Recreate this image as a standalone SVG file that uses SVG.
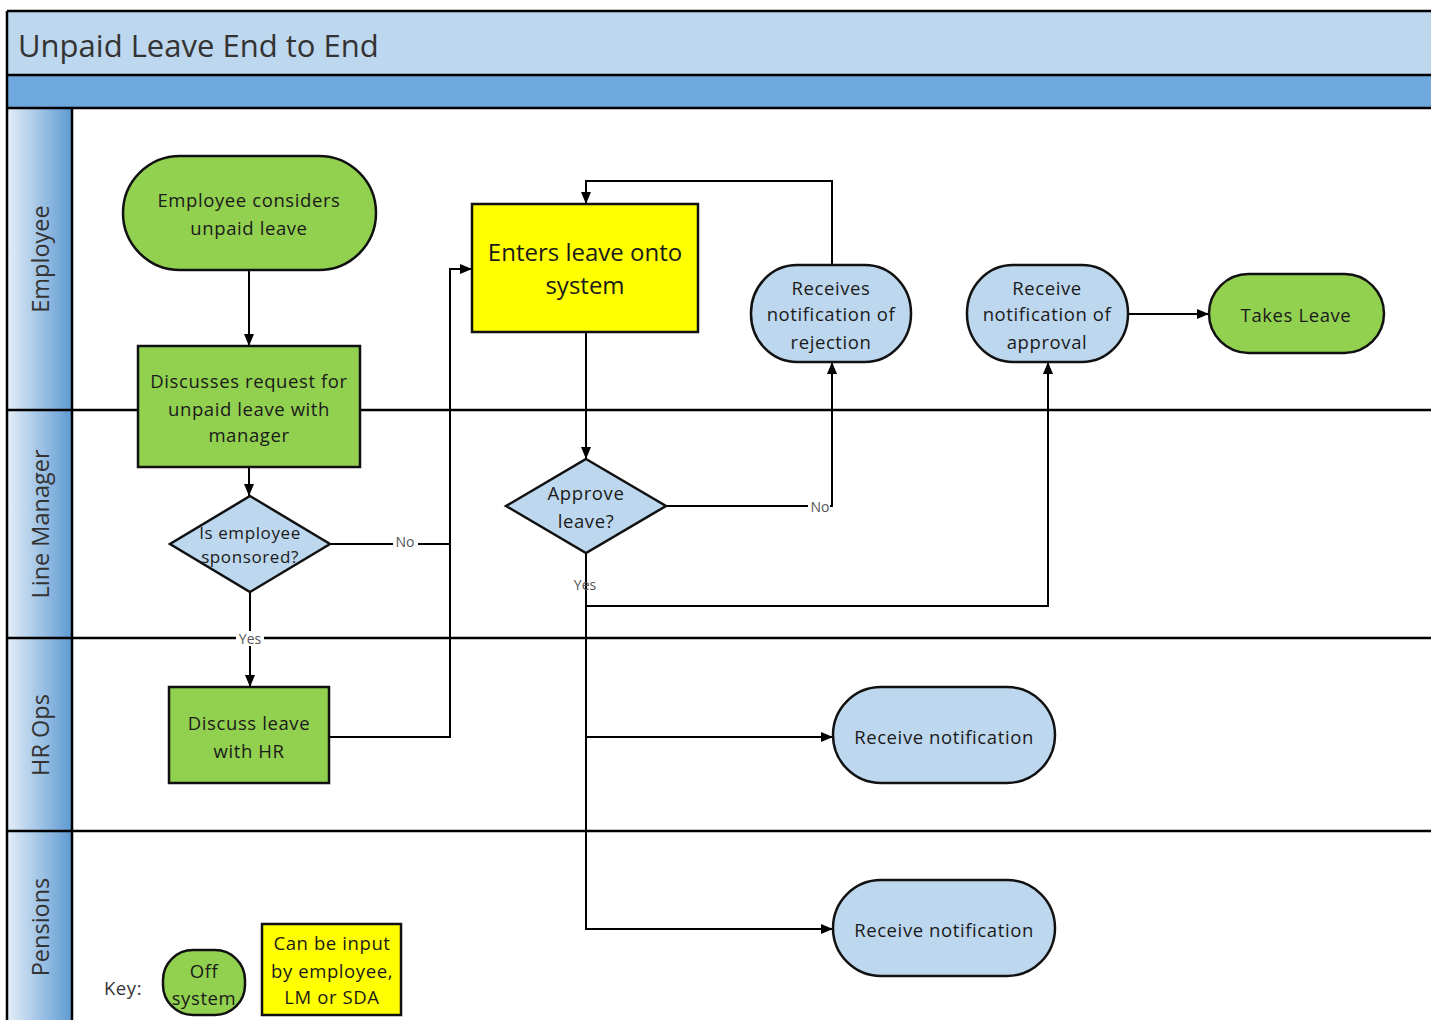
<svg xmlns="http://www.w3.org/2000/svg" width="1431" height="1020" viewBox="0 0 1431 1020">
<defs>
<linearGradient id="hdr" x1="0" y1="0" x2="1" y2="0">
<stop offset="0" stop-color="#E4EEF8"/>
<stop offset="1" stop-color="#5E9AD3"/>
</linearGradient>
<marker id="arr" viewBox="0 0 12 10" refX="12" refY="5" markerWidth="12" markerHeight="10" markerUnits="userSpaceOnUse" orient="auto">
<path d="M0,0 L12,5 L0,10 Z" fill="#000"/>
</marker>
<style>
text{font-family:"Open Sans","Liberation Sans",sans-serif;fill:#1a1a1a;}
.t{font-size:18.5px;letter-spacing:0.6px;text-anchor:middle;dominant-baseline:central;}
.d{font-size:17px;}
.big{font-size:24px;text-anchor:middle;dominant-baseline:central;}
.lane{font-size:23.5px;fill:#333;text-anchor:middle;dominant-baseline:central;}
.lbl{font-size:14px;fill:#555;text-anchor:middle;dominant-baseline:central;}
.green{fill:#92D050;stroke:#111;stroke-width:2.5;}
.blue{fill:#BDD7EE;stroke:#111;stroke-width:2.5;}
.yellow{fill:#FFFF00;stroke:#111;stroke-width:2.5;}
.c{fill:none;stroke:#000;stroke-width:2;}
.ln{stroke:#000;stroke-width:2.5;}
</style>
</defs>
<rect x="0" y="0" width="1431" height="1020" fill="#fff"/>
<g id="frame">
<rect x="7" y="11" width="1430" height="64" fill="#BDD7EE"/>
<rect x="7" y="75" width="1430" height="33" fill="#6FA8DC"/>
<rect x="7" y="108" width="65" height="912" fill="url(#hdr)"/>
<line class="ln" x1="7" y1="11" x2="1431" y2="11"/>
<line class="ln" x1="7" y1="75" x2="1431" y2="75"/>
<line class="ln" x1="7" y1="108" x2="1431" y2="108"/>
<line class="ln" x1="7" y1="11" x2="7" y2="1020"/>
<line class="ln" x1="72" y1="108" x2="72" y2="1020"/>
<line class="ln" x1="7" y1="410" x2="1431" y2="410"/>
<line class="ln" x1="7" y1="638" x2="1431" y2="638"/>
<line class="ln" x1="7" y1="831" x2="1431" y2="831"/>
<text x="18" y="45" font-size="31" dominant-baseline="central" style="fill:#333">Unpaid Leave End to End</text>
<text class="lane" transform="translate(40,259) rotate(-90)">Employee</text>
<text class="lane" transform="translate(40,524) rotate(-90)">Line Manager</text>
<text class="lane" transform="translate(40,735) rotate(-90)">HR Ops</text>
<text class="lane" transform="translate(40,927) rotate(-90)">Pensions</text>
</g>
<g id="connectors">
<line class="c" x1="249" y1="270" x2="249" y2="346" marker-end="url(#arr)"/>
<line class="c" x1="249" y1="467" x2="249" y2="496" marker-end="url(#arr)"/>
<polyline class="c" points="330,544 450,544 450,269 472,269" marker-end="url(#arr)"/>
<line class="c" x1="250" y1="592" x2="250" y2="687" marker-end="url(#arr)"/>
<polyline class="c" points="329,737 450,737 450,544"/>
<line class="c" x1="586" y1="332" x2="586" y2="459" marker-end="url(#arr)"/>
<polyline class="c" points="666,506 832,506 832,362" marker-end="url(#arr)"/>
<polyline class="c" points="832,265 832,181 586,181 586,204" marker-end="url(#arr)"/>
<polyline class="c" points="586,553 586,606 1048,606 1048,362" marker-end="url(#arr)"/>
<polyline class="c" points="586,606 586,737 833,737" marker-end="url(#arr)"/>
<polyline class="c" points="586,737 586,929 833,929" marker-end="url(#arr)"/>
<line class="c" x1="1128" y1="314" x2="1209" y2="314" marker-end="url(#arr)"/>
<rect x="393" y="534" width="25" height="15" fill="#fff"/>
<text class="lbl" x="405" y="541">No</text>
<rect x="808" y="499" width="22" height="15" fill="#fff"/>
<text class="lbl" x="820" y="506">No</text>
<rect x="236" y="631" width="28" height="15" fill="#fff"/>
<text class="lbl" x="250" y="638">Yes</text>
<text class="lbl" x="585" y="584">Yes</text>
</g>
<g id="n1">
<rect class="green" x="123" y="156" width="253" height="114" rx="57" ry="57"/>
<text class="t" x="249" y="199">Employee considers</text>
<text class="t" x="249" y="227">unpaid leave</text>
</g>
<g id="n2">
<rect class="green" x="138" y="346" width="222" height="121"/>
<text class="t" x="249" y="380">Discusses request for</text>
<text class="t" x="249" y="408">unpaid leave with</text>
<text class="t" x="249" y="434">manager</text>
</g>
<g id="n3">
<polygon class="blue" points="250,496 330,544 250,592 170,544"/>
<text class="t d" x="250" y="532">Is employee</text>
<text class="t d" x="250" y="556">sponsored?</text>
</g>
<g id="n4">
<rect class="green" x="169" y="687" width="160" height="96"/>
<text class="t" x="249" y="722">Discuss leave</text>
<text class="t" x="249" y="750">with HR</text>
</g>
<g id="n5">
<rect class="yellow" x="472" y="204" width="226" height="128"/>
<text class="big" x="585" y="251">Enters leave onto</text>
<text class="big" x="585" y="284">system</text>
</g>
<g id="n6">
<polygon class="blue" points="586,459 666,506 586,553 506,506"/>
<text class="t" x="586" y="492">Approve</text>
<text class="t" x="586" y="520">leave?</text>
</g>
<g id="n7">
<rect class="blue" x="751" y="265" width="160" height="97" rx="46" ry="48"/>
<text class="t" x="831" y="287">Receives</text>
<text class="t" x="831" y="313">notification of</text>
<text class="t" x="831" y="341">rejection</text>
</g>
<g id="n8">
<rect class="blue" x="967" y="265" width="161" height="97" rx="46" ry="48"/>
<text class="t" x="1047" y="287">Receive</text>
<text class="t" x="1047" y="313">notification of</text>
<text class="t" x="1047" y="341">approval</text>
</g>
<g id="n9">
<rect class="green" x="1209" y="274" width="175" height="79" rx="39.5" ry="39.5"/>
<text class="t" x="1296" y="314">Takes Leave</text>
</g>
<g id="n10">
<rect class="blue" x="833" y="687" width="222" height="96" rx="48" ry="48"/>
<text class="t" x="944" y="736">Receive notification</text>
</g>
<g id="n11">
<rect class="blue" x="833" y="880" width="222" height="96" rx="48" ry="48"/>
<text class="t" x="944" y="929">Receive notification</text>
</g>
<g id="key">
<text class="t" x="123" y="987" style="fill:#333">Key:</text>
<rect class="green" x="163" y="950" width="82" height="65" rx="30" ry="30"/>
<text class="t" x="204" y="970">Off</text>
<text class="t" x="204" y="997">system</text>
<rect class="yellow" x="262" y="924" width="139" height="91"/>
<text class="t" x="332" y="942">Can be input</text>
<text class="t" x="332" y="970">by employee,</text>
<text class="t" x="332" y="996">LM or SDA</text>
</g>
</svg>
